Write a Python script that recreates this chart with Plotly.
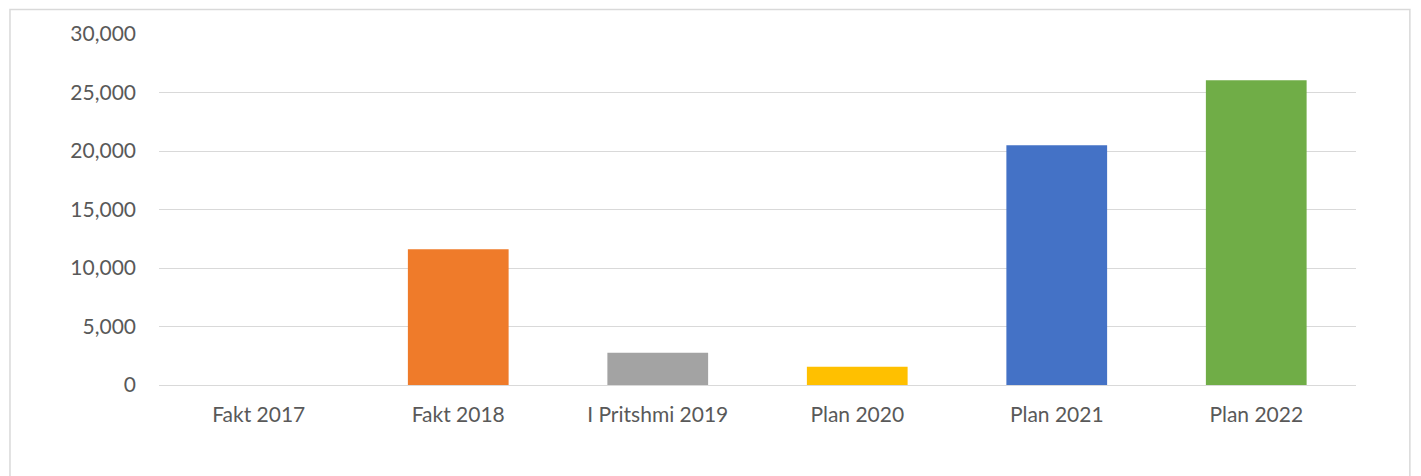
import plotly.graph_objects as go

categories = ["Fakt 2017", "Fakt 2018", "I Pritshmi 2019", "Plan 2020", "Plan 2021", "Plan 2022"]
values = [0, 11600, 2750, 1550, 20500, 26050]
colors = ["#4472C4", "#EF7B2A", "#A3A3A3", "#FFC000", "#4472C6", "#70AD47"]
ytick_vals = [0, 5000, 10000, 15000, 20000, 25000, 30000]

fig = go.Figure()
fig.add_trace(go.Bar(
    x=categories, y=values,
    marker=dict(color=colors, line=dict(width=0)),
    width=0.505,
    hoverinfo="x+y",
))

fig.update_layout(
    width=1421, height=476,
    margin=dict(l=151, r=73, t=26, b=99),
    paper_bgcolor="white", plot_bgcolor="white",
    font=dict(family="Lato, Carlito, Calibri, sans-serif", size=21, color="#595959"),
    showlegend=False,
    shapes=[dict(type="rect", xref="paper", yref="paper",
                 x0=-0.1245, x1=1.045, y0=-0.4, y1=1.07,
                 line=dict(color="#D9D9D9", width=1.5), fillcolor="rgba(0,0,0,0)", layer="below")],
)
fig.update_yaxes(
    range=[0, 30000], tickvals=ytick_vals, tickformat=",d",
    showgrid=True, gridcolor="#D9D9D9", gridwidth=1.3,
    zeroline=True, zerolinecolor="#D9D9D9", zerolinewidth=1.3,
    showline=False, ticks="", ticklabelstandoff=22,
)
fig.update_xaxes(
    showgrid=False, showline=False, ticks="", ticklabelstandoff=15,
)

fig.write_html("out.html")
